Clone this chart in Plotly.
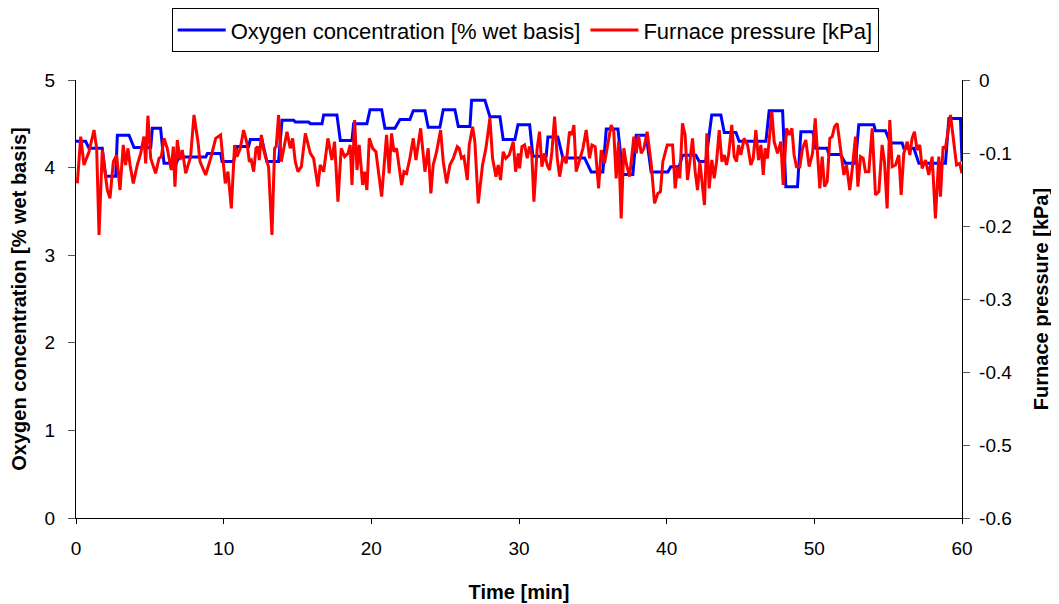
import plotly.graph_objects as go

# Oxygen concentration (step-like) [% wet basis]
o2_t = [0.0, 0.65, 0.88, 1.78, 2.01, 2.69, 2.80, 3.59, 3.93, 5.06, 5.17, 5.73, 5.96, 6.80, 6.95, 8.78,
        8.90, 9.80, 9.89, 10.67, 10.90, 11.69, 11.80, 12.59, 12.93, 13.72, 13.95, 14.74, 14.85, 15.75,
        15.87, 16.66, 16.77, 17.67, 17.90, 18.69, 18.80, 19.70, 19.91, 20.70, 20.92, 21.60, 21.94, 22.61,
        22.84, 23.63, 23.85, 24.64, 24.87, 25.66, 25.89, 26.68, 26.79, 27.69, 28.03, 28.71, 28.93, 29.72,
        29.93, 30.72, 30.94, 31.84, 31.96, 32.63, 32.97, 34.44, 34.89, 35.68, 35.91, 36.70, 37.03, 37.71,
        37.94, 38.61, 38.95, 40.08, 40.28, 40.85, 41.07, 41.98, 42.20, 42.65, 43.05, 43.67, 43.90, 44.69,
        44.91, 46.72, 46.94, 47.85, 48.07, 48.86, 49.09, 49.90, 50.10, 50.87, 50.98, 51.77, 52.11, 52.79,
        53.01, 54.03, 54.14, 54.82, 55.16, 55.95, 56.06, 56.74, 57.08, 58.88, 59.11, 59.90, 60.0]
o2_v = [4.30, 4.30, 4.22, 4.22, 3.90, 3.90, 4.37, 4.37, 4.23, 4.23, 4.45, 4.45, 4.05, 4.05, 4.12, 4.12,
        4.16, 4.16, 4.07, 4.07, 4.24, 4.24, 4.32, 4.32, 4.07, 4.07, 4.54, 4.54, 4.52, 4.52,
        4.50, 4.50, 4.60, 4.60, 4.31, 4.31, 4.50, 4.50, 4.66, 4.66, 4.45, 4.45, 4.55, 4.55,
        4.65, 4.65, 4.46, 4.46, 4.66, 4.66, 4.47, 4.47, 4.77, 4.77, 4.58, 4.58, 4.32, 4.32,
        4.49, 4.49, 4.13, 4.13, 4.35, 4.35, 4.11, 4.11, 3.95, 3.95, 4.44, 4.44, 3.92, 3.92,
        4.37, 4.37, 3.95, 3.95, 4.01, 4.01, 4.14, 4.14, 4.07, 4.07, 4.60, 4.60, 4.40, 4.40,
        4.30, 4.30, 4.65, 4.65, 3.78, 3.78, 4.41, 4.41, 4.22, 4.22, 4.15, 4.15, 4.05, 4.05,
        4.49, 4.49, 4.42, 4.42, 4.28, 4.28, 4.22, 4.22, 4.05, 4.05, 4.56, 4.56, 4.07]

# Furnace pressure [kPa]
p_t = [0.09, 0.32, 0.54, 0.88, 1.22, 1.40, 1.56, 1.78, 2.12, 2.30, 2.53, 2.75, 2.98, 3.20, 3.36, 3.52,
       3.66, 3.88, 4.15, 4.38, 4.60, 4.72, 4.87, 5.06, 5.39, 5.62, 5.78, 5.96, 6.18, 6.45, 6.59, 6.70,
       6.86, 7.04, 7.20, 7.43, 7.76, 7.99, 8.26, 8.40, 8.78, 9.12, 9.46, 9.79,
       10.11, 10.29, 10.52, 10.74, 10.90, 11.13, 11.35, 11.58, 11.74, 11.87, 12.03, 12.19, 12.32, 12.41,
       12.55, 12.71, 12.86, 13.04, 13.27, 13.45, 13.56, 13.72, 13.90, 14.29, 14.51, 14.67, 14.85, 15.03,
       15.26, 15.53, 15.87, 16.09, 16.38, 16.54, 16.77, 17.06, 17.33, 17.51, 17.74, 17.96, 18.19, 18.42,
       18.57, 18.69, 18.87, 19.03, 19.18, 19.41, 19.54, 19.70, 19.86,
       20.09, 20.31, 20.47, 20.70, 21.03, 21.21, 21.37, 21.53, 21.71, 21.89, 22.05, 22.21, 22.39, 22.61,
       22.84, 23.02, 23.34, 23.63, 23.85, 24.03, 24.19, 24.42, 24.69, 24.87, 25.10, 25.32, 25.55, 25.82,
       25.95, 26.11, 26.27, 26.50, 26.63, 26.86, 27.01, 27.24, 27.53, 27.76, 28.03, 28.21, 28.44, 28.59,
       28.75, 28.93, 29.11, 29.34, 29.61, 29.77, 29.95,
       30.04, 30.20, 30.38, 30.56, 30.71, 30.87, 31.01, 31.23, 31.39, 31.55, 31.73, 31.91, 32.07, 32.23,
       32.41, 32.59, 32.75, 32.97, 33.20, 33.42, 33.58, 33.72, 33.87, 34.10, 34.33, 34.55, 34.78, 34.94,
       35.16, 35.39, 35.57, 35.79, 36.02, 36.24, 36.42, 36.58, 36.74, 36.92, 37.10, 37.26, 37.49, 37.78,
       37.94, 38.09, 38.28, 38.46, 38.68, 38.95, 39.18, 39.40, 39.58, 39.74, 40.04,
       40.22, 40.40, 40.58, 40.74, 40.89, 41.07, 41.25, 41.41, 41.57, 41.75, 41.93, 42.09, 42.25, 42.38,
       42.56, 42.72, 42.88, 43.06, 43.22, 43.38, 43.56, 43.74, 43.90, 44.05, 44.19, 44.41, 44.57, 44.73,
       44.87, 45.02, 45.25, 45.48, 45.70, 45.86, 46.04, 46.22, 46.38, 46.54, 46.67, 46.83, 47.12, 47.28,
       47.51, 47.73, 47.89, 48.12, 48.30, 48.48, 48.63, 48.79, 49.02, 49.20, 49.42, 49.65, 49.88, 50.06,
       50.37, 50.53, 50.69, 50.87, 51.05, 51.21, 51.37, 51.55, 51.77, 52.00, 52.18, 52.40, 52.56, 52.79,
       52.95, 53.13, 53.31, 53.46, 53.69, 53.92, 54.14, 54.37, 54.59, 54.75, 54.93, 55.11, 55.27, 55.50,
       55.72, 55.88, 56.06, 56.29, 56.47, 56.62, 56.78, 56.96, 57.14, 57.30, 57.53, 57.75, 57.98, 58.20,
       58.43, 58.54, 58.72, 58.88, 59.22, 59.45, 59.63, 59.85, 60.00]
p_v = [-0.1416, -0.0776, -0.1164, -0.0982, -0.0685, -0.0936, -0.2123, -0.0959, -0.1507, -0.1621, -0.1119,
       -0.1027, -0.1507, -0.0890, -0.1164, -0.0936, -0.1164, -0.1416, -0.1164, -0.1005, -0.0776, -0.1142,
       -0.0489, -0.1073, -0.1279, -0.1073, -0.1050, -0.0799, -0.0936, -0.1233, -0.0913, -0.1461, -0.0822,
       -0.1096, -0.0959, -0.1279, -0.1050, -0.0479, -0.0845, -0.1119, -0.1301, -0.1073, -0.0799, -0.0753,
       -0.1416, -0.1256, -0.1758, -0.0890, -0.1050, -0.0936, -0.0685, -0.0868, -0.1119, -0.1096, -0.1256,
       -0.0936, -0.0913, -0.1096, -0.0753, -0.0959, -0.1073, -0.1187, -0.2123, -0.0936, -0.0913, -0.0479,
       -0.1119, -0.0708, -0.0936, -0.0799, -0.1119, -0.1256, -0.1187, -0.0731, -0.1005, -0.1073, -0.1461,
       -0.1164, -0.1256, -0.0799, -0.1096, -0.0845, -0.1667, -0.0936, -0.1050, -0.1005, -0.0890, -0.1438,
       -0.0548, -0.1233, -0.0890, -0.1438, -0.1256, -0.1507, -0.0799,
       -0.0936, -0.0982, -0.1256, -0.1598, -0.0753, -0.1279, -0.0731, -0.0982, -0.0936, -0.1210, -0.1438,
       -0.1256, -0.1279, -0.1073, -0.0799, -0.1096, -0.0662, -0.1256, -0.0936, -0.1553, -0.1164, -0.0982,
       -0.0685, -0.1119, -0.1416, -0.1164, -0.1073, -0.0913, -0.0936, -0.1073, -0.1050, -0.1370, -0.0890,
       -0.0639, -0.0845, -0.1689, -0.1164, -0.0936, -0.0525, -0.1073, -0.1324, -0.1164, -0.1370, -0.0982,
       -0.1073, -0.1027, -0.0845, -0.1256, -0.1005,
       -0.1210, -0.0913, -0.0890, -0.1073, -0.0913, -0.1027, -0.1667, -0.0936, -0.0708, -0.1187, -0.1005,
       -0.1164, -0.1233, -0.0982, -0.0502, -0.1073, -0.1324, -0.1050, -0.1142, -0.0708, -0.0753, -0.0616,
       -0.1256, -0.1096, -0.0936, -0.0685, -0.1073, -0.0890, -0.0913, -0.1484, -0.0959, -0.1142, -0.0845,
       -0.0616, -0.0708, -0.1347, -0.0845, -0.1895, -0.0936, -0.1142, -0.1324, -0.0776, -0.1005, -0.0753,
       -0.1005, -0.0936, -0.0708, -0.1142, -0.1689, -0.1553, -0.1530, -0.1119, -0.0890,
       -0.0890, -0.0890, -0.1484, -0.1187, -0.1347, -0.0594, -0.0753, -0.1370, -0.1119, -0.0799, -0.1256,
       -0.1507, -0.1119, -0.1393, -0.1712, -0.0731, -0.1484, -0.1096, -0.1347, -0.1119, -0.0685, -0.1119,
       -0.1027, -0.1164, -0.1027, -0.0616, -0.1050, -0.1119, -0.0890, -0.1027, -0.0799, -0.0890, -0.1164,
       -0.1073, -0.0685, -0.1096, -0.0890, -0.1301, -0.0936, -0.1073, -0.0434, -0.0845, -0.1005, -0.0845,
       -0.1438, -0.0662, -0.0753, -0.0662, -0.1027, -0.1187, -0.1187, -0.0936, -0.0822, -0.1187, -0.1005,
       -0.0525,
       -0.1484, -0.1050, -0.1461, -0.1393, -0.0799, -0.0776, -0.0639, -0.0594, -0.0959, -0.1301, -0.1164,
       -0.1507, -0.1233, -0.0776, -0.1461, -0.1050, -0.1073, -0.1256, -0.1256, -0.0662, -0.1575, -0.1530,
       -0.0890, -0.1119, -0.1758, -0.0548, -0.1187, -0.1164, -0.1027, -0.1575, -0.1005, -0.0845, -0.1027,
       -0.0799, -0.0708, -0.0959, -0.0890, -0.1210, -0.1096, -0.1301, -0.1050, -0.1895, -0.1050, -0.1598,
       -0.0913, -0.0936, -0.0479, -0.0868, -0.1164, -0.1142, -0.1279]

x_ticks = [0, 10, 20, 30, 40, 50, 60]
y1_ticks = [0, 1, 2, 3, 4, 5]
y2_ticks = [-0.6, -0.5, -0.4, -0.3, -0.2, -0.1, 0]
y2_labels = ["-0.6", "-0.5", "-0.4", "-0.3", "-0.2", "-0.1", "0"]

FONT = "Arial, Liberation Sans, sans-serif"

fig = go.Figure()
fig.add_trace(go.Scatter(x=o2_t, y=o2_v, mode="lines", name="Oxygen concentration [% wet basis]",
                         line=dict(color="#0000FF", width=3)))
fig.add_trace(go.Scatter(x=p_t, y=p_v, mode="lines", name="Furnace pressure [kPa]", yaxis="y2",
                         line=dict(color="#FF0000", width=3)))

fig.update_layout(
    width=1059, height=604,
    margin=dict(l=68, r=105, t=72, b=94, autoexpand=False),
    paper_bgcolor="white", plot_bgcolor="white",
    font=dict(family=FONT, size=19, color="black"),
    showlegend=True,
    legend=dict(orientation="h", x=0.507, xanchor="center", y=1.164, yanchor="top",
                bordercolor="black", borderwidth=1, bgcolor="white",
                font=dict(size=22), itemwidth=48, tracegroupgap=0),
    xaxis=dict(range=[0, 60], tickvals=x_ticks, showgrid=False, zeroline=False,
               showline=True, linecolor="black", linewidth=1,
               ticks="outside", ticklen=5, tickcolor="black", ticklabelstandoff=8,
               title=dict(text="<b>Time [min]</b>", font=dict(size=20), standoff=27)),
    yaxis=dict(range=[0, 5], tickvals=y1_ticks, showgrid=False, zeroline=False,
               showline=True, linecolor="black", linewidth=1,
               ticks="outside", ticklen=7, tickcolor="#555555", ticklabelstandoff=9,
               title=dict(text="<b>Oxygen concentration [% wet basis]</b>", font=dict(size=20), standoff=16)),
    yaxis2=dict(range=[-0.6, 0], tickvals=y2_ticks, ticktext=["\u00a0" + s for s in y2_labels],
                overlaying="y", side="right",
                showgrid=False, zeroline=False, showline=True, linecolor="black", linewidth=1,
                ticks="outside", ticklen=7, tickcolor="#555555",
                title=dict(text="<b>Furnace pressure [kPa]</b>", font=dict(size=20), standoff=22)),
)

fig.write_html("out.html")
